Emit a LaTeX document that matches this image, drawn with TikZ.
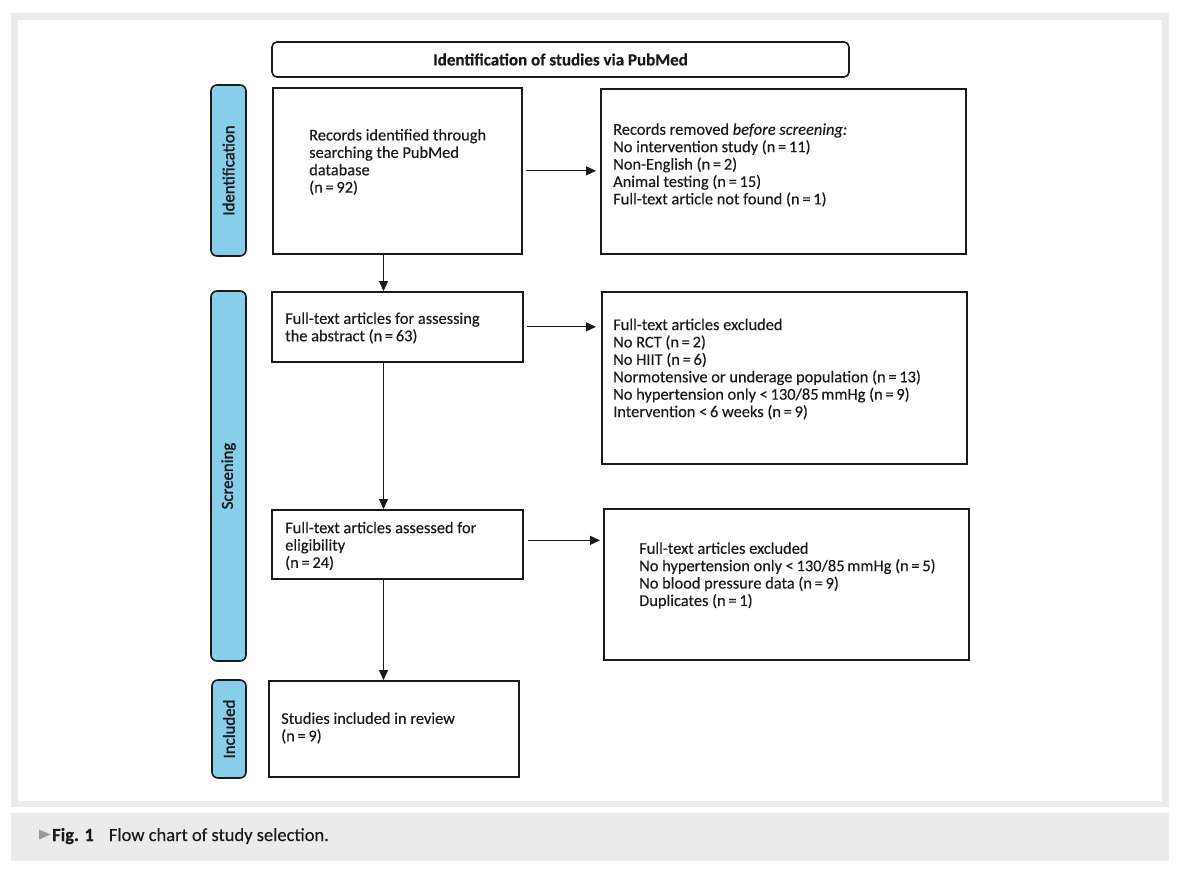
\documentclass[tikz,border=0pt]{standalone}
\usepackage{fontspec}
\setmainfont{Carlito}[FakeBold=0.25]
\newfontfamily\labelfont{Carlito}[FakeBold=1.5]
\usetikzlibrary{arrows.meta}
\definecolor{bgray}{HTML}{EBEBEB}
\definecolor{sideblue}{HTML}{87CEEB}
\definecolor{txt}{HTML}{1A1A1A}
\begin{document}
\begin{tikzpicture}[x=1pt,y=-1pt,
  box/.style={draw=txt, line width=1.7pt, anchor=north west, inner sep=0pt},
  sidebox/.style={draw=txt, fill=sideblue, line width=1.6pt, rounded corners=6pt, rotate=90, inner sep=0pt, font=\labelfont\fontsize{16.8}{18}\selectfont, text=txt},
  txtnode/.style={anchor=west, align=left, inner sep=0pt, font=\fontsize{16.4}{17.4}\selectfont, text=txt},
  arr/.style={draw=txt, line width=1.1pt, -{Triangle[length=10pt,width=9pt]}}
]
\useasboundingbox (0,0) rectangle (1180,878);
% frame
\fill[bgray] (11,13) rectangle (1169,807);
\fill[white] (18,20) rectangle (1162,801);
\fill[bgray] (11,813) rectangle (1169,861);
% header
\node[draw=txt, line width=1.6pt, rounded corners=5pt, minimum width=577pt, minimum height=35pt, inner sep=0pt, font=\bfseries\fontsize{17}{18}\selectfont, text=txt] (hdr) at (560.5,59.5) {Identification of studies via PubMed};
% side labels
\node[sidebox, minimum width=171pt, minimum height=35pt] (l1) at (228.5,170.5) {Identification};
\node[sidebox, minimum width=370pt, minimum height=35pt] (l2) at (228.5,476) {Screening};
\node[sidebox, minimum width=98pt, minimum height=34pt] (l3) at (229,729) {Included};
% boxes
\node[box, minimum width=249pt, minimum height=166pt] (b1) at (272,87) {};
\node[box, minimum width=365pt, minimum height=165pt] (b2) at (600,88) {};
\node[box, minimum width=251pt, minimum height=70pt] (b3) at (271,291) {};
\node[box, minimum width=365pt, minimum height=172pt] (b4) at (601,291) {};
\node[box, minimum width=251pt, minimum height=69pt] (b5) at (271,509) {};
\node[box, minimum width=365pt, minimum height=151pt] (b6) at (603,508) {};
\node[box, minimum width=250pt, minimum height=96pt] (b7) at (268,680) {};
% texts
\node[txtnode] (t1) at (309,162) {Records identified through\\searching the PubMed\\database\\(n\,=\,92)};
\node[txtnode] (t2) at (613,165) {Records removed \textit{before screening:}\\No intervention study (n\,=\,11)\\Non-English (n\,=\,2)\\Animal testing (n\,=\,15)\\Full-text article not found (n\,=\,1)};
\node[txtnode] (t3) at (285,328) {Full-text articles for assessing\\the abstract (n\,=\,63)};
\node[txtnode] (t4) at (613,369) {Full-text articles excluded\\No RCT (n\,=\,2)\\No HIIT (n\,=\,6)\\Normotensive or underage population (n\,=\,13)\\No hypertension only <\,130/85\,mmHg (n\,=\,9)\\Intervention <\,6 weeks (n\,=\,9)};
\node[txtnode] (t5) at (285,546) {Full-text articles assessed for\\eligibility\\(n\,=\,24)};
\node[txtnode] (t6) at (639,575.5) {Full-text articles excluded\\No hypertension only <\,130/85\,mmHg (n\,=\,5)\\No blood pressure data (n\,=\,9)\\Duplicates (n\,=\,1)};
\node[txtnode] (t7) at (281,728) {Studies included in review\\(n\,=\,9)};
% arrows
\coordinate (ax) at (383.5,0);
\draw[arr, shorten <=3pt, shorten >=4pt] (b1.east) -- (b1.east -| b2.west);
\draw[arr, shorten <=3pt, shorten >=5pt] (b3.east) -- (b3.east -| b4.west);
\draw[arr, shorten <=4pt, shorten >=3pt] ([yshift=4pt]b5.east) -- ([yshift=4pt]b5.east -| b6.west);
\draw[arr] (b1.south -| ax) -- (b3.north -| ax);
\draw[arr] (b3.south -| ax) -- (b5.north -| ax);
\draw[arr] (b5.south -| ax) -- (b7.north -| ax);
% caption
\fill[gray!85!black!70] (39,829.5) -- (50.5,834.5) -- (39,839.5) -- cycle;
\node[anchor=base west, inner sep=0pt, font=\fontsize{18.5}{20}\selectfont, text=txt] (cap) at (52,841) {\textbf{Fig. 1}\hspace{15pt}Flow chart of study selection.};
\end{tikzpicture}
\end{document}
